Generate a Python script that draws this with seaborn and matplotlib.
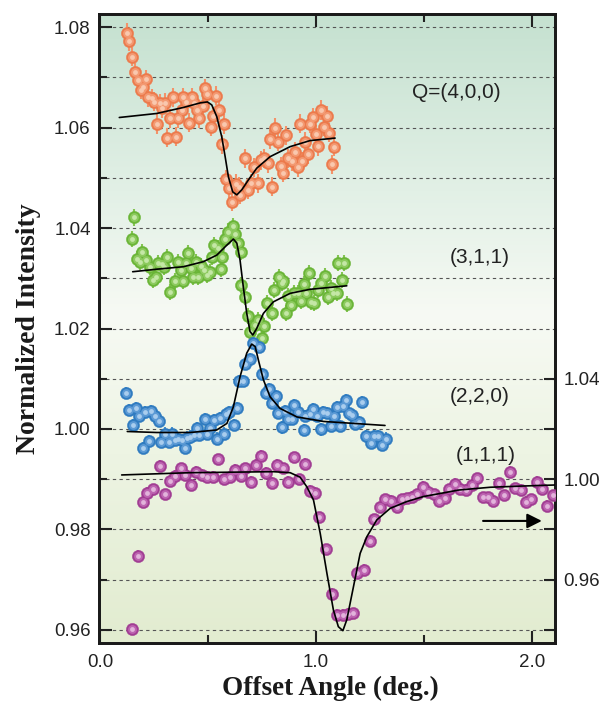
import numpy as np
import matplotlib
matplotlib.use('Agg')
import matplotlib.pyplot as plt
from matplotlib import font_manager
from matplotlib.colors import LinearSegmentedColormap
from matplotlib.ticker import MultipleLocator, FixedLocator
import seaborn as sns

# Q=(4,0,0)  -- left axis
x_400 = [0.124, 0.136, 0.148, 0.162, 0.177, 0.188, 0.200, 0.213, 0.224, 0.239,
         0.250, 0.262, 0.278, 0.286, 0.301, 0.312, 0.324, 0.339, 0.352, 0.362,
         0.378, 0.383, 0.398, 0.412, 0.425, 0.435, 0.450, 0.460, 0.475, 0.486,
         0.497, 0.512, 0.525, 0.537, 0.552, 0.563, 0.574, 0.582, 0.597, 0.610,
         0.628, 0.644, 0.648, 0.671, 0.687, 0.699, 0.714, 0.730, 0.745, 0.761,
         0.776, 0.787, 0.798, 0.810, 0.823, 0.838, 0.849, 0.862, 0.872, 0.888,
         0.903, 0.915, 0.926, 0.937, 0.949, 0.962, 0.972, 0.988, 1.000, 1.011,
         1.023, 1.038, 1.050, 1.062, 1.073, 1.085]
y_400 = [1.0789, 1.0772, 1.0741, 1.0710, 1.0695, 1.0675, 1.0681, 1.0696, 1.0660, 1.0658,
         1.0651, 1.0607, 1.0648, 1.0638, 1.0649, 1.0580, 1.0618, 1.0660, 1.0582, 1.0618,
         1.0635, 1.0660, 1.0651, 1.0610, 1.0660, 1.0649, 1.0635, 1.0618, 1.0643, 1.0678,
         1.0667, 1.0602, 1.0622, 1.0663, 1.0635, 1.0567, 1.0607, 1.0497, 1.0479, 1.0452,
         1.0488, 1.0482, 1.0466, 1.0539, 1.0476, 1.0489, 1.0521, 1.0489, 1.0535, 1.0539,
         1.0529, 1.0577, 1.0482, 1.0600, 1.0572, 1.0523, 1.0510, 1.0585, 1.0539, 1.0533,
         1.0552, 1.0521, 1.0608, 1.0533, 1.0572, 1.0547, 1.0608, 1.0620, 1.0587, 1.0563,
         1.0635, 1.0602, 1.0623, 1.0590, 1.0527, 1.0562]
err_400 = 0.0019
fit_x_400 = [0.089, 0.262, 0.386, 0.463, 0.497, 0.517, 0.540, 0.563, 0.579, 0.594,
             0.614, 0.633, 0.656, 0.687, 0.725, 0.787, 0.880, 0.972, 1.088]
fit_y_400 = [1.0620, 1.0628, 1.0640, 1.0649, 1.0651, 1.0645, 1.0622, 1.0582, 1.0542, 1.0502,
             1.0472, 1.0466, 1.0476, 1.0496, 1.0519, 1.0542, 1.0562, 1.0574, 1.0579]

# (3,1,1)  -- left axis
x_311 = [0.147, 0.159, 0.170, 0.185, 0.196, 0.212, 0.231, 0.247, 0.258, 0.270,
         0.286, 0.298, 0.309, 0.324, 0.347, 0.360, 0.375, 0.386, 0.397, 0.409,
         0.421, 0.432, 0.443, 0.455, 0.468, 0.483, 0.494, 0.509, 0.517, 0.529,
         0.545, 0.560, 0.566, 0.579, 0.594, 0.617, 0.625, 0.638, 0.651, 0.653,
         0.671, 0.684, 0.694, 0.718, 0.730, 0.749, 0.761, 0.772, 0.795, 0.807,
         0.829, 0.841, 0.849, 0.860, 0.872, 0.884, 0.900, 0.915, 0.931, 0.946,
         0.952, 0.968, 0.977, 0.992, 1.008, 1.023, 1.042, 1.057, 1.069, 1.080,
         1.096, 1.103, 1.119, 1.131, 1.142]
y_311 = [1.0378, 1.0421, 1.0338, 1.0333, 1.0353, 1.0336, 1.0323, 1.0297, 1.0303, 1.0331,
         1.0328, 1.0323, 1.0342, 1.0273, 1.0295, 1.0333, 1.0316, 1.0295, 1.0331, 1.0351,
         1.0320, 1.0303, 1.0333, 1.0302, 1.0324, 1.0316, 1.0306, 1.0313, 1.0343, 1.0366,
         1.0360, 1.0318, 1.0343, 1.0378, 1.0393, 1.0404, 1.0389, 1.0371, 1.0353, 1.0287,
         1.0263, 1.0225, 1.0194, 1.0207, 1.0217, 1.0182, 1.0205, 1.0251, 1.0231, 1.0277,
         1.0303, 1.0291, 1.0295, 1.0230, 1.0265, 1.0247, 1.0270, 1.0271, 1.0255, 1.0289,
         1.0271, 1.0310, 1.0253, 1.0251, 1.0277, 1.0291, 1.0304, 1.0262, 1.0280, 1.0271,
         1.0271, 1.0331, 1.0297, 1.0331, 1.0249]
err_311 = 0.0016
fit_x_311 = [0.151, 0.262, 0.386, 0.478, 0.540, 0.587, 0.617, 0.633, 0.648, 0.663,
             0.679, 0.694, 0.707, 0.725, 0.756, 0.802, 0.880, 0.972, 1.142]
fit_y_311 = [1.0313, 1.0318, 1.0323, 1.0333, 1.0346, 1.0366, 1.0378, 1.0370, 1.0336, 1.0283,
             1.0230, 1.0194, 1.0187, 1.0200, 1.0230, 1.0253, 1.0270, 1.0278, 1.0285]

# (2,2,0)  -- left axis
x_220 = [0.120, 0.133, 0.151, 0.167, 0.182, 0.198, 0.210, 0.228, 0.238, 0.253,
         0.275, 0.284, 0.300, 0.318, 0.333, 0.346, 0.361, 0.380, 0.392, 0.403,
         0.418, 0.434, 0.449, 0.460, 0.485, 0.495, 0.511, 0.526, 0.542, 0.557,
         0.573, 0.583, 0.599, 0.619, 0.634, 0.642, 0.661, 0.671, 0.694, 0.710,
         0.738, 0.751, 0.767, 0.782, 0.795, 0.813, 0.823, 0.841, 0.856, 0.872,
         0.888, 0.900, 0.915, 0.946, 0.949, 0.972, 0.988, 1.003, 1.023, 1.034,
         1.050, 1.069, 1.085, 1.096, 1.111, 1.126, 1.138, 1.153, 1.168, 1.181,
         1.199, 1.214, 1.230, 1.255, 1.270, 1.288, 1.304, 1.323]
y_220 = [1.0071, 1.0038, 1.0008, 1.0042, 1.0025, 0.9963, 1.0033, 0.9976, 1.0036, 1.0026,
         1.0016, 0.9974, 0.9991, 0.9975, 0.9991, 0.9978, 0.9981, 0.9978, 0.9962, 0.9983,
         0.9985, 0.9989, 1.0001, 0.9988, 1.0020, 0.9991, 1.0001, 1.0018, 0.9981, 1.0021,
         0.9991, 1.0029, 1.0033, 1.0008, 1.0041, 1.0096, 1.0096, 1.0129, 1.0139, 1.0171,
         1.0164, 1.0109, 1.0071, 1.0079, 1.0052, 1.0066, 1.0032, 1.0003, 1.0036, 1.0019,
         1.0019, 1.0048, 1.0034, 0.9998, 1.0026, 1.0030, 1.0039, 1.0026, 0.9999, 1.0034,
         1.0032, 1.0005, 1.0026, 1.0043, 1.0005, 1.0046, 1.0058, 1.0031, 1.0028, 1.0010,
         1.0013, 1.0054, 0.9986, 0.9973, 0.9986, 0.9986, 0.9968, 0.9981]
err_220 = 0.0012
fit_x_220 = [0.126, 0.262, 0.417, 0.540, 0.587, 0.617, 0.648, 0.679, 0.702, 0.718,
             0.733, 0.756, 0.787, 0.833, 0.911, 1.034, 1.319]
fit_y_220 = [0.9995, 0.9993, 0.9993, 0.9998, 1.0011, 1.0044, 1.0104, 1.0151, 1.0169, 1.0164,
             1.0137, 1.0098, 1.0064, 1.0041, 1.0024, 1.0015, 1.0007]

# (1,1,1)  -- right axis
x_111 = [0.147, 0.175, 0.199, 0.219, 0.245, 0.276, 0.300, 0.323, 0.349, 0.374,
         0.392, 0.423, 0.446, 0.472, 0.497, 0.523, 0.546, 0.574, 0.600, 0.624,
         0.651, 0.673, 0.698, 0.724, 0.747, 0.770, 0.796, 0.821, 0.847, 0.870,
         0.898, 0.920, 0.948, 0.971, 0.997, 1.015, 1.046, 1.073, 1.096, 1.124,
         1.149, 1.173, 1.191, 1.222, 1.250, 1.269, 1.296, 1.319, 1.346, 1.374,
         1.397, 1.420, 1.443, 1.469, 1.497, 1.520, 1.546, 1.571, 1.597, 1.617,
         1.644, 1.667, 1.694, 1.721, 1.744, 1.772, 1.798, 1.821, 1.849, 1.870,
         1.898, 1.921, 1.948, 1.972, 1.994, 2.022, 2.045, 2.071, 2.096]
y_111 = [0.9403, 0.9696, 0.9911, 0.9946, 0.9960, 1.0053, 0.9941, 0.9994, 1.0013, 1.0044,
         1.0017, 0.9977, 1.0030, 1.0017, 1.0010, 1.0010, 1.0079, 1.0000, 1.0008, 1.0037,
         1.0013, 1.0044, 0.9990, 1.0057, 1.0093, 1.0026, 0.9986, 1.0057, 1.0044, 0.9990,
         1.0087, 1.0000, 1.0061, 0.9954, 0.9946, 0.9849, 0.9721, 0.9543, 0.9460, 0.9460,
         0.9464, 0.9466, 0.9628, 0.9639, 0.9755, 0.9841, 0.9888, 0.9920, 0.9915, 0.9891,
         0.9920, 0.9924, 0.9931, 0.9941, 0.9970, 0.9950, 0.9941, 0.9915, 0.9924, 0.9960,
         0.9981, 0.9960, 0.9957, 0.9977, 1.0004, 0.9928, 0.9928, 0.9915, 0.9984, 0.9937,
         1.0030, 0.9964, 0.9957, 0.9911, 0.9920, 0.9990, 0.9960, 0.9894, 0.9937]
err_111 = 0.0022
fit_x_111 = [0.100, 0.417, 0.802, 0.880, 0.926, 0.957, 0.988, 1.019, 1.050, 1.080,
             1.103, 1.124, 1.142, 1.173, 1.204, 1.235, 1.281, 1.343, 1.420, 1.497,
             1.661, 1.806, 1.960, 2.106]
fit_y_111 = [1.0017, 1.0026, 1.0030, 1.0026, 1.0008, 0.9970, 0.9917, 0.9785, 0.9626, 0.9480,
             0.9413, 0.9397, 0.9440, 0.9572, 0.9705, 0.9771, 0.9838, 0.9884, 0.9911, 0.9931,
             0.9957, 0.9968, 0.9973, 0.9977]

labels = ['Q=(4,0,0)', '(3,1,1)', '(2,2,0)', '(1,1,1)']
label_x = [1.444, 1.620, 1.620, 1.648]
label_y = [1.0669, 1.0342, 1.0064, 0.9947]

left_ticks = [0.96, 0.98, 1.00, 1.02, 1.04, 1.06, 1.08]
right_ticks = [0.96, 1.00, 1.04]
x_ticks = [0.0, 1.0, 2.0]

sns.set_theme(style='ticks')
names = {f.name for f in font_manager.fontManager.ttflist}
if 'Liberation Sans Narrow' in names:
    tick_family = ['Liberation Sans Narrow', 'DejaVu Sans']
    tick_size = 15
    label_size = 17
else:
    tick_family = ['Liberation Sans', 'DejaVu Sans']
    tick_size = 13.5
    label_size = 15
plt.rcParams['font.family'] = tick_family
serif = ['Liberation Serif', 'DejaVu Serif']

fig = plt.figure(figsize=(6.01, 7.07), dpi=100)
ax = fig.add_axes([99 / 601, 1 - 643 / 707, 456 / 601, 629 / 707])

# background gradient
bg = LinearSegmentedColormap.from_list('bg', [(0.0, '#e2ecd0'), (0.3, '#edf4e3'), (0.52, '#f7faf4'),
                                             (0.72, '#e2f0e6'), (1.0, '#c5e1d0')])
ax.imshow(np.linspace(0, 1, 256).reshape(-1, 1), cmap=bg, aspect='auto', origin='lower',
          extent=[0, 1, 0, 1], transform=ax.transAxes, zorder=0)

# base, mid, highlight, error bar colour
series = [
    (x_400, y_400, err_400, '#ec7a4c', '#f39a73', '#f9c8ae', '#f3936a'),
    (x_311, y_311, err_311, '#6ab537', '#8dca5f', '#c4e7a6', '#84c552'),
    (x_220, y_220, err_220, '#2f7bc0', '#5c9ad5', '#a9cdee', '#4690cf'),
]

ax2 = ax.twinx()


def draw(axis, xs, ys, err, base, mid, light, ecol, z):
    axis.errorbar(xs, ys, yerr=err, fmt='none', ecolor=ecol, elinewidth=1.5, capsize=0, zorder=z)
    sns.scatterplot(x=xs, y=ys, ax=axis, color=base, s=78, edgecolor=base, linewidth=0.3,
                    zorder=z + 0.1, legend=False)
    sns.scatterplot(x=xs, y=ys, ax=axis, color=mid, s=40, linewidth=0, zorder=z + 0.2,
                    legend=False)
    sns.scatterplot(x=xs, y=ys, ax=axis, color=light, s=12, linewidth=0, zorder=z + 0.3,
                    legend=False)


for i, (xs, ys, err, base, mid, light, ecol) in enumerate(series):
    draw(ax, xs, ys, err, base, mid, light, ecol, 3 + i)
draw(ax2, x_111, y_111, err_111, '#a13d93', '#bd64b1', '#e2b3db', '#b055a6', 3)

for fx, fy in [(fit_x_400, fit_y_400), (fit_x_311, fit_y_311), (fit_x_220, fit_y_220)]:
    sns.lineplot(x=fx, y=fy, ax=ax, color='black', lw=1.2, sort=False, estimator=None, zorder=10)
sns.lineplot(x=fit_x_111, y=fit_y_111, ax=ax2, color='black', lw=1.2, sort=False,
             estimator=None, zorder=10)

# limits: right axis is scaled x2 with its 1.00 at the left 0.99 line
ax.set_xlim(-0.005, 2.106)
ax.set_ylim(0.9574, 1.0826)
lo, hi = ax.get_ylim()
ax2.set_ylim(1 + 2 * (lo - 0.99), 1 + 2 * (hi - 0.99))

ax.xaxis.set_major_locator(FixedLocator(x_ticks))
ax.xaxis.set_minor_locator(MultipleLocator(0.5))
ax.set_xticklabels(['%.1f' % v for v in x_ticks])
ax.yaxis.set_major_locator(FixedLocator(left_ticks))
ax.yaxis.set_minor_locator(MultipleLocator(0.01))
ax.set_yticklabels(['%.2f' % v for v in left_ticks])
ax2.yaxis.set_major_locator(FixedLocator(right_ticks))
ax2.yaxis.set_minor_locator(FixedLocator([0.94, 0.98, 1.02]))
ax2.set_yticklabels(['%.2f' % v for v in right_ticks])

ax.set_axisbelow(True)
ax.grid(which='both', axis='y', linestyle=(0, (3, 3)), color='#555555', lw=0.8)

ax.tick_params(which='both', direction='in', top=True, right=False, width=1.5, colors='#222222',
               labelsize=tick_size, pad=6)
ax.tick_params(which='major', length=9)
ax.tick_params(which='minor', length=6)
ax2.tick_params(which='both', direction='in', width=1.5, colors='#222222', labelsize=tick_size, pad=6)
ax2.tick_params(which='major', length=8)
ax2.tick_params(which='minor', length=8)
ax.tick_params(axis='x', pad=8)

for a in (ax, ax2):
    for sp in a.spines.values():
        sp.set_linewidth(2.0)
        sp.set_color('#1a1a1a')

ax.set_ylabel('Normalized Intensity', fontfamily=serif, fontweight='bold', fontsize=20, color='#1a1a1a')
ax.set_xlabel('Offset Angle (deg.)', fontfamily=serif, fontweight='bold', fontsize=19.5, color='#1a1a1a')
ax.yaxis.set_label_coords(-0.128, 0.5)
ax.xaxis.set_label_coords(0.507, -0.053)
ax2.set_ylabel('')

for t, tx, ty in zip(labels, label_x, label_y):
    ax.text(tx, ty, t, fontsize=label_size, color='#222222', ha='left', va='center', zorder=12)

ax2.annotate('', xy=(2.045, 0.9834), xytext=(1.773, 0.9834),
             arrowprops=dict(arrowstyle='-|>', color='black', lw=1.5, mutation_scale=22,
                             shrinkA=0, shrinkB=0))

fig.savefig('out.png', dpi=100)
